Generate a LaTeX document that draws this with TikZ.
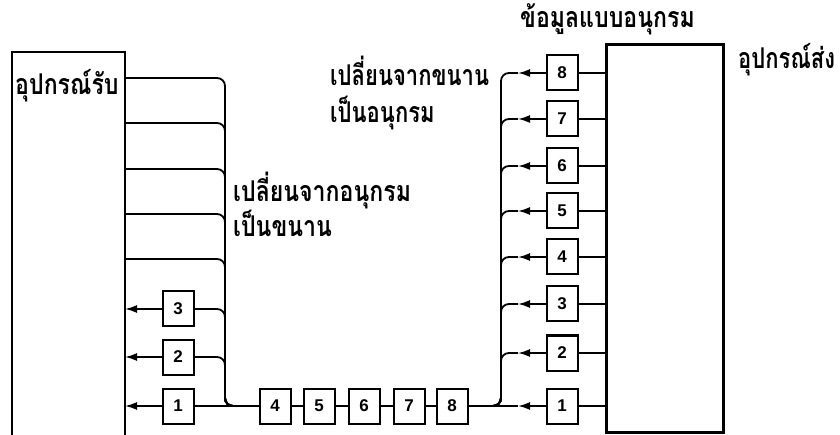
\documentclass[tikz,border=0pt]{standalone}
\usepackage{fontspec}
\setmainfont{Liberation Sans}
\newfontfamily\thaifont[Script=Thai]{Loma}
\usetikzlibrary{arrows.meta}
\newcommand\thtext[2][1.05]{\scalebox{#1}[1.3]{#2}}
\begin{document}
\begin{tikzpicture}[x=1pt,y=-1pt,
  bit/.style={draw, line width=2pt, minimum width=31pt, minimum height=35pt, inner sep=0pt, font=\bfseries\fontsize{17}{17}\selectfont},
  wire/.style={line width=1.8pt, rounded corners=8pt},
  arr/.style={-{Latex[length=12pt,width=8pt]}, line width=1.8pt},
  dev/.style={line width=2.6pt},
  thai/.style={font=\thaifont\bfseries\fontsize{22}{22}\selectfont, inner sep=0pt, anchor=base west}]
\useasboundingbox (0,0) rectangle (840,435);
% receiving device (open at the bottom)
\coordinate (rvBL) at (12,435);
\coordinate (rvTL) at (12,52);
\coordinate (rvTR) at (125,52);
\coordinate (rvBR) at (125,435);
\draw[dev] (rvBL) -- (rvTL) -- (rvTR) -- (rvBR);
% sending device
\node[draw, dev, minimum width=117pt, minimum height=388pt, anchor=north west, inner sep=0pt] (send) at (605,43) {};
% bus coordinates
\coordinate (lbus) at (225,406);
\coordinate (rbus) at (501,406);
% left boxes
\node[bit] (l3) at (178,309) {3};
\node[bit] (l2) at (178,357) {2};
\node[bit] (l1) at (178,406) {1};
% serial chain
\node[bit] (b4) at (275,406) {4};
\node[bit] (b5) at (319,406) {5};
\node[bit] (b6) at (364,406) {6};
\node[bit] (b7) at (409,406) {7};
\node[bit] (b8) at (452,406) {8};
\draw[wire] (b4.east) -- (b5.west);
\draw[wire] (b5.east) -- (b6.west);
\draw[wire] (b6.east) -- (b7.west);
\draw[wire] (b7.east) -- (b8.west);
% left side: parallel lines into bus
\foreach \y in {78,123,169,214,259}
  \draw[wire] (125,\y) -- (lbus |- 0,\y) -- (lbus) -- (b4.west);
\draw[wire] (l3.east) -- (lbus |- l3) -- (lbus) -- (b4.west);
\draw[wire] (l2.east) -- (lbus |- l2) -- (lbus) -- (b4.west);
\draw[wire] (l1.east) -- (b4.west);
\foreach \n in {l1,l2,l3}
  \draw[arr] (\n.west) -- (\n.west -| rvTR);
% right side boxes
\foreach \k/\y in {1/406,2/353,3/304,4/257,5/211,6/166,7/119,8/73}{
  \node[bit] (r\k) at (562,\y) {\k};
  \draw[wire] (r\k.east) -- (r\k.east -| send.west);
  \coordinate (t\k) at (518,\y);
  \draw[arr] (r\k.west) -- (t\k);
}
\draw[wire] (t1) -- (b8.east);
\foreach \k in {2,...,8}
  \draw[wire] (t\k) -- (rbus |- t\k) -- (rbus) -- (b8.east);
% labels
\node[thai] (trecv) at (15,95) {\thtext{อุปกรณ์รับ}};
\node[thai] (tsend) at (738,69) {\thtext[1.0]{อุปกรณ์ส่ง}};
\node[thai] (tser) at (520,28) {\thtext{ข้อมูลแบบอนุกรม}};
\node[thai] (ts2pa) at (233,202) {\thtext{เปลี่ยนจากอนุกรม}};
\node[thai] (ts2pb) at (233,237) {\thtext{เป็นขนาน}};
\node[thai] (tp2sa) at (330,86) {\thtext[1.0]{เปลี่ยนจากขนาน}};
\node[thai] (tp2sb) at (330,123) {\thtext[1.0]{เป็นอนุกรม}};
\end{tikzpicture}
\end{document}
